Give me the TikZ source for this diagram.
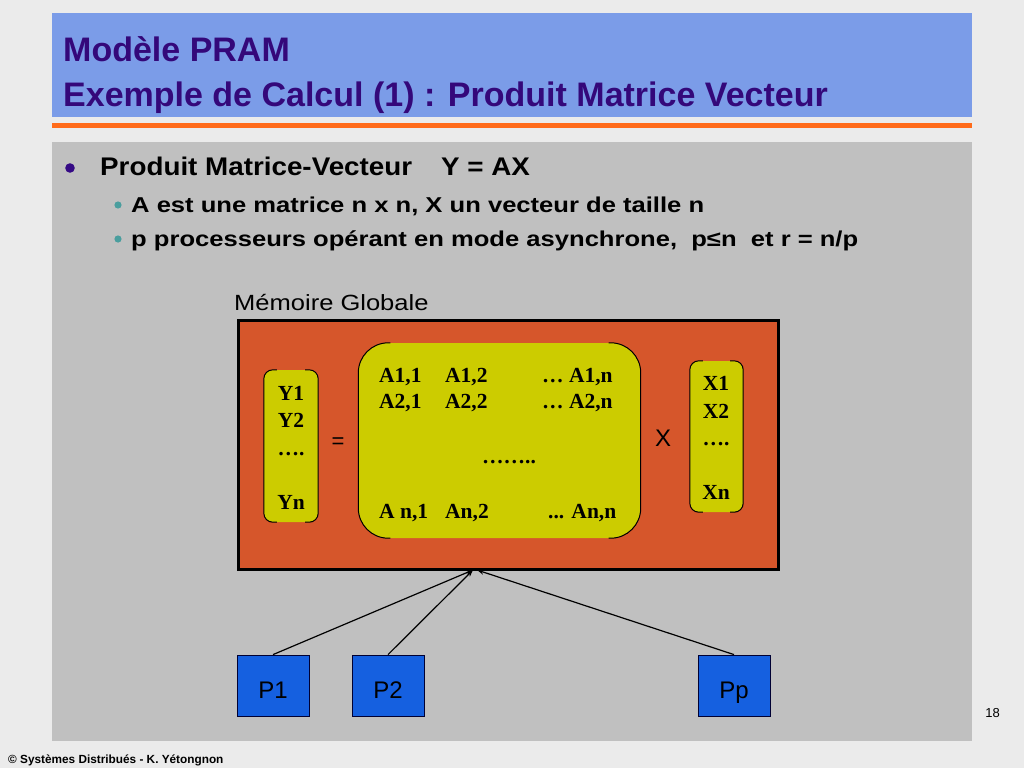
\documentclass[tikz,border=0pt]{standalone}
\usepackage{fontspec}
\setmainfont{Liberation Sans}
\newfontfamily\tms{Liberation Serif}
\usetikzlibrary{arrows.meta}
\definecolor{bg}{HTML}{EBEBEB}
\definecolor{band}{HTML}{7B9CE8}
\definecolor{titlec}{HTML}{34087A}
\definecolor{orangeline}{HTML}{FF6B1A}
\definecolor{panel}{HTML}{C0C0C0}
\definecolor{mem}{HTML}{D6562B}
\definecolor{yel}{HTML}{CCCC00}
\definecolor{proc}{HTML}{1560E0}
\definecolor{tealb}{HTML}{4A9E9E}
\definecolor{bulletp}{HTML}{350A85}
\newcommand{\hs}[2]{\scalebox{#1}[1]{#2}}
\newcommand{\fs}[1]{\fontsize{#1}{#1}\selectfont}
\tikzset{
  txt/.style={inner sep=0pt, anchor=base west},
  ttl/.style={txt, text=titlec, font=\fs{34}\bfseries},
  mtx/.style={txt, font=\tms\fs{21.5}\bfseries},
  vec/.style={inner sep=0pt, anchor=base, font=\tms\fs{21.5}\bfseries},
  yelbox/.style={rectangle, fill=yel, inner sep=0pt},
  brk/.style={draw=black, line width=1pt},
  procbox/.style={rectangle, fill=proc, draw=black!80!blue, line width=0.8pt,
     minimum width=72pt, minimum height=61pt, inner sep=0pt},
  plab/.style={inner sep=0pt, anchor=base, font=\fs{24}},
  conn/.style={draw=black, line width=1.2pt, -{Stealth[length=7pt,width=5pt]}}
}
\begin{document}
\begin{tikzpicture}[x=1pt,y=-1pt]
\useasboundingbox (0,0) rectangle (1024,768);
\fill[bg] (0,0) rectangle (1024,768);
% title band
\fill[band] (52,13) rectangle (972,117);
\node[ttl] (t1) at (63,62) {Modèle PRAM};
\node[ttl] (t2) at (63,106) {Exemple de Calcul (1) : Produit Matrice Vecteur};
\fill[orangeline] (52,123) rectangle (972,128);
% panel
\fill[panel] (52,142) rectangle (972,741);
% bullets
\fill[bulletp] (70,168) circle (4.8);
\node[txt, font=\fs{25.5}\bfseries] (b1) at (100,175) {\hs{1.09}{Produit Matrice-Vecteur}};
\node[txt, font=\fs{25.5}\bfseries] (b1b) at (441,175) {\hs{1.09}{Y = AX}};
\fill[tealb] (118,205) circle (3.6);
\node[txt, font=\fs{21.5}\bfseries] (b2) at (131,212) {\hs{1.19}{A est une matrice n x n, X un vecteur de taille n}};
\fill[tealb] (118,239) circle (3.6);
\node[txt, font=\fs{21.5}\bfseries] (b3) at (131,246) {\hs{1.19}{p processeurs opérant en mode asynchrone,\ \ p≤n\ \ et r = n/p}};
% memory
\node[txt, font=\fs{22}] (mg) at (234,310) {\hs{1.16}{Mémoire Globale}};
\node[rectangle, fill=mem, draw=black, line width=3pt, minimum width=540pt, minimum height=249pt, inner sep=0pt] (mem) at (508,444.5) {};
% Y vector
\node[yelbox, rounded corners=9pt, minimum width=54pt, minimum height=152pt] (Y) at (291,446) {};
\draw[brk, rounded corners=9pt] ([xshift=13pt]Y.north west) -- (Y.north west) -- (Y.south west) -- ([xshift=13pt]Y.south west);
\draw[brk, rounded corners=9pt] ([xshift=-13pt]Y.north east) -- (Y.north east) -- (Y.south east) -- ([xshift=-13pt]Y.south east);
\node[vec] (y1) at (291,400) {Y1};
\node[vec] (y2) at (291,427) {Y2};
\node[vec] (y3) at (291,455) {….};
\node[vec] (yn) at (291,509) {Yn};
\node[inner sep=0pt, font=\fs{22}] (eq) at (338,443) {=};
% matrix
\node[yelbox, rounded corners=30pt, minimum width=282pt, minimum height=195pt] (A) at (499.5,440.5) {};
\draw[brk, rounded corners=30pt] ([xshift=32pt]A.north west) -- (A.north west) -- (A.south west) -- ([xshift=32pt]A.south west);
\draw[brk, rounded corners=30pt] ([xshift=-32pt]A.north east) -- (A.north east) -- (A.south east) -- ([xshift=-32pt]A.south east);
\node[mtx] (a11) at (379,382) {A1,1};
\node[mtx] (a12) at (445,382) {A1,2};
\node[mtx] (a1n) at (542,382) {… A1,n};
\node[mtx] (a21) at (379,408) {A2,1};
\node[mtx] (a22) at (445,408) {A2,2};
\node[mtx] (a2n) at (542,408) {… A2,n};
\node[vec] (dots) at (509,463) {……..};
\node[mtx] (an1) at (379,518) {A n,1};
\node[mtx] (an2) at (445,518) {An,2};
\node[mtx] (ann) at (548,518) {... An,n};
\node[inner sep=0pt, font=\fs{24}] (times) at (663,438) {X};
% X vector
\node[yelbox, rounded corners=9pt, minimum width=53pt, minimum height=151pt] (X) at (716.5,436.5) {};
\draw[brk, rounded corners=9pt] ([xshift=13pt]X.north west) -- (X.north west) -- (X.south west) -- ([xshift=13pt]X.south west);
\draw[brk, rounded corners=9pt] ([xshift=-13pt]X.north east) -- (X.north east) -- (X.south east) -- ([xshift=-13pt]X.south east);
\node[vec] (x1) at (716,390) {X1};
\node[vec] (x2) at (716,418) {X2};
\node[vec] (x3) at (716,445) {….};
\node[vec] (xn) at (716,499) {Xn};
% processors
\node[procbox] (p1) at (273,685.5) {};
\node[procbox] (p2) at (388,685.5) {};
\node[procbox] (pp) at (734,685.5) {};
\node[plab] (p1l) at ([yshift=-12.5pt]p1.center) {P1};
\node[plab] (p2l) at ([yshift=-12.5pt]p2.center) {P2};
\node[plab] (ppl) at ([yshift=-12.5pt]pp.center) {Pp};
\coordinate (m1) at (473,570);
\coordinate (m2) at (477,570);
\draw[conn] (p1.north) -- (m1);
\draw[conn] (p2.north) -- (m1);
\draw[conn] (pp.north) -- (m2);
% footer
\node[anchor=base east, inner sep=0pt, font=\fs{13}] (pg) at (1000,717) {18};
\node[txt, font=\fs{11.8}\bfseries] (ft) at (8,763) {© Systèmes Distribués - K. Yétongnon};
\end{tikzpicture}
\end{document}
